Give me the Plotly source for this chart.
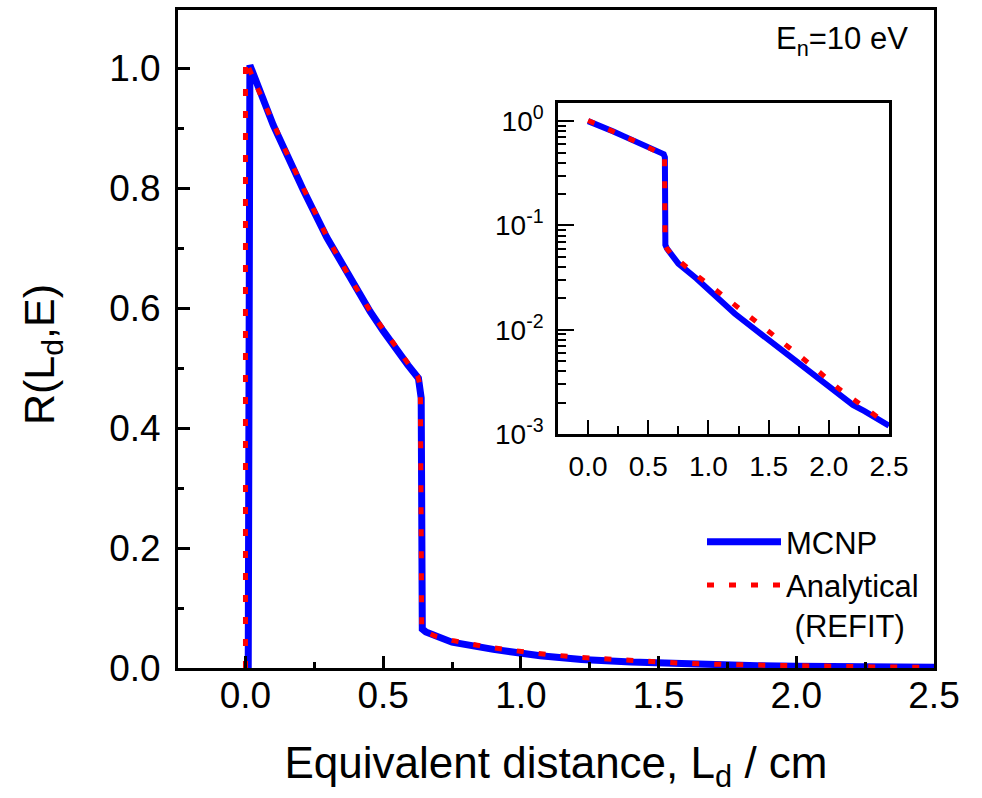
import plotly.graph_objects as go

# ---- data ----
mcnp_x = [0.010, 0.016, 0.101, 0.155, 0.210, 0.295, 0.368, 0.453, 0.500, 0.550, 0.590, 0.628,
          0.638, 0.642, 0.655, 0.750, 0.900, 1.070, 1.220, 1.400, 1.580, 1.770, 1.860,
          2.000, 2.100, 2.200, 2.300, 2.400, 2.500]
mcnp_y = [0.0, 1.005, 0.905, 0.850, 0.797, 0.718, 0.659, 0.594, 0.562, 0.529, 0.505, 0.483,
          0.450, 0.065, 0.060, 0.043, 0.031, 0.0205, 0.0142, 0.0098, 0.0068, 0.0047,
          0.0038, 0.0029, 0.0024, 0.0019, 0.00165, 0.0014, 0.0012]

refit_x = [0.0, 0.0, 0.034, 0.100, 0.155, 0.210, 0.300, 0.370, 0.450, 0.500, 0.550, 0.590,
           0.625, 0.635, 0.640, 0.655, 0.690, 0.750, 0.870, 1.050, 1.220, 1.390, 1.570, 1.760,
           1.930, 2.090, 2.280, 2.470, 2.500]
refit_y = [0.0, 1.013, 0.977, 0.908, 0.853, 0.800, 0.715, 0.658, 0.597, 0.565, 0.532, 0.508,
           0.487, 0.470, 0.065, 0.060, 0.053, 0.046, 0.0355, 0.0246, 0.0174, 0.0122, 0.0083,
           0.0056, 0.00385, 0.00268, 0.00186, 0.00126, 0.0012]

main_xticks = [0.0, 0.5, 1.0, 1.5, 2.0, 2.5]
main_yticks = [0.0, 0.2, 0.4, 0.6, 0.8, 1.0]
inset_yticks = [1, 0.1, 0.01, 0.001]
inset_yticktext = ["10<sup>0</sup>", "10<sup>-1</sup>", "10<sup>-2</sup>", "10<sup>-3</sup>"]
inset_yminor = [m * d for d in (0.001, 0.01, 0.1) for m in range(2, 10)]

BLUE = "#0000ff"
RED = "#ff0000"
FONT = "Liberation Sans, Arial, sans-serif"
W, H = 982, 798

fig = go.Figure()

# main panel
fig.add_trace(go.Scatter(x=mcnp_x, y=mcnp_y, mode="lines", name="MCNP",
                         line=dict(color=BLUE, width=7), xaxis="x", yaxis="y"))
fig.add_trace(go.Scatter(x=refit_x, y=refit_y, mode="lines", name="Analytical<br> (REFIT)",
                         line=dict(color=RED, width=5, dash="7px,15px"), xaxis="x", yaxis="y"))

# inset (log scale, zero points dropped)
fig.add_trace(go.Scatter(x=[0.0] + mcnp_x[2:], y=[1.0] + mcnp_y[2:], mode="lines", showlegend=False,
                         line=dict(color=BLUE, width=6), xaxis="x2", yaxis="y2"))
fig.add_trace(go.Scatter(x=refit_x[1:], y=refit_y[1:], mode="lines", showlegend=False,
                         line=dict(color=RED, width=5, dash="7px,15px"), xaxis="x2", yaxis="y2"))

axis_common = dict(showgrid=False, zeroline=False, color="black", linecolor="black",
                   mirror=True, showline=True, ticks="inside", automargin=False)

fig.update_layout(
    template="none",
    width=W, height=H,
    margin=dict(l=0, r=0, t=0, b=0, autoexpand=False),
    paper_bgcolor="white", plot_bgcolor="white",
    font=dict(family=FONT, color="black"),
    xaxis=dict(**axis_common, domain=[178 / W, 934 / W], range=[-0.245, 2.5],
               tickvals=main_xticks, tickformat=".1f", ticklen=12, tickwidth=3, linewidth=3,
               minor=dict(ticks="inside", dtick=0.25, tick0=0, ticklen=6, tickwidth=3),
               tickfont=dict(size=37), ticklabelstandoff=-7,
               title=dict(text="Equivalent distance, L<sub>d</sub> / cm", font=dict(size=44),
                          standoff=32),
               anchor="y"),
    yaxis=dict(**axis_common, domain=[1 - 668 / H, 1 - 10 / H], range=[0, 1.097],
               tickvals=main_yticks, tickformat=".1f", ticklen=12, tickwidth=3, linewidth=3,
               minor=dict(ticks="inside", dtick=0.1, tick0=0, ticklen=6, tickwidth=3),
               tickfont=dict(size=37), ticklabelstandoff=7,
               anchor="x"),
    xaxis2=dict(**axis_common, domain=[558 / W, 889 / W], range=[-0.25, 2.5],
                tickvals=main_xticks, tickformat=".1f", ticklen=14, tickwidth=2, linewidth=2.5,
                minor=dict(ticks="inside", dtick=0.25, tick0=0, ticklen=8, tickwidth=2),
                tickfont=dict(size=28), ticklabelstandoff=6,
                anchor="y2"),
    yaxis2=dict(**axis_common, type="log", domain=[1 - 434 / H, 1 - 103 / H], range=[-3, 0.174],
                tickvals=inset_yticks, ticktext=inset_yticktext, ticklen=16, tickwidth=2,
                linewidth=2.5,
                minor=dict(ticks="inside", tickvals=inset_yminor, ticklen=8, tickwidth=2),
                tickfont=dict(size=28), ticklabelstandoff=6,
                anchor="x2"),
    showlegend=True,
    legend=dict(x=702 / W, y=1 - 515 / H, xanchor="left", yanchor="top", valign="top",
                bgcolor="rgba(0,0,0,0)", borderwidth=0, font=dict(size=31), itemwidth=74,
                tracegroupgap=0),
    annotations=[
        dict(text="E<sub>n</sub>=10 eV", xref="paper", yref="paper",
             x=910 / W, y=1 - 41 / H, xanchor="right", yanchor="middle",
             showarrow=False, font=dict(size=31)),
        dict(text="R(L<sub>d</sub>,E)", xref="paper", yref="paper",
             x=42 / W, y=1 - 355 / H, xanchor="center", yanchor="middle", textangle=-90,
             showarrow=False, font=dict(size=43)),
    ],
)

fig.write_html("out.html", config={"displayModeBar": False},
               post_script="document.body.style.margin='0';document.body.style.overflow='hidden';")
